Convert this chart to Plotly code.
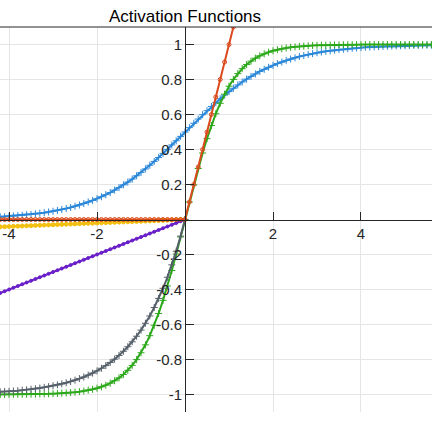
import plotly.graph_objects as go

# x sample positions (step 0.1)
x_vals = [-4.3, -4.2, -4.1, -4.0, -3.9, -3.8, -3.7, -3.6, -3.5, -3.4,
          -3.3, -3.2, -3.1, -3.0, -2.9, -2.8, -2.7, -2.6, -2.5, -2.4,
          -2.3, -2.2, -2.1, -2.0, -1.9, -1.8, -1.7, -1.6, -1.5, -1.4,
          -1.3, -1.2, -1.1, -1.0, -0.9, -0.8, -0.7, -0.6, -0.5, -0.4,
          -0.3, -0.2, -0.1, 0.0,
          0.1, 0.2, 0.3, 0.4, 0.5, 0.6, 0.7, 0.8, 0.9, 1.0,
          1.1, 1.2, 1.3, 1.4, 1.5, 1.6, 1.7, 1.8, 1.9, 2.0,
          2.1, 2.2, 2.3, 2.4, 2.5, 2.6, 2.7, 2.8, 2.9, 3.0,
          3.1, 3.2, 3.3, 3.4, 3.5, 3.6, 3.7, 3.8, 3.9, 4.0,
          4.1, 4.2, 4.3, 4.4, 4.5, 4.6, 4.7, 4.8, 4.9, 5.0,
          5.1, 5.2, 5.3, 5.4, 5.5, 5.6, 5.7]

sigmoid_vals = [0.013, 0.015, 0.016, 0.018, 0.020, 0.022, 0.024, 0.027, 0.029, 0.032,
                0.036, 0.039, 0.043, 0.047, 0.052, 0.057, 0.063, 0.069, 0.076, 0.083,
                0.091, 0.100, 0.109, 0.119, 0.130, 0.142, 0.154, 0.168, 0.182, 0.198,
                0.214, 0.231, 0.250, 0.269, 0.289, 0.310, 0.332, 0.354, 0.378, 0.401,
                0.426, 0.450, 0.475, 0.500,
                0.525, 0.550, 0.574, 0.599, 0.622, 0.646, 0.668, 0.690, 0.711, 0.731,
                0.750, 0.769, 0.786, 0.802, 0.818, 0.832, 0.846, 0.858, 0.870, 0.881,
                0.891, 0.900, 0.909, 0.917, 0.924, 0.931, 0.937, 0.943, 0.948, 0.953,
                0.957, 0.961, 0.964, 0.968, 0.971, 0.973, 0.976, 0.978, 0.980, 0.982,
                0.984, 0.985, 0.987, 0.988, 0.989, 0.990, 0.991, 0.992, 0.993, 0.993,
                0.994, 0.995, 0.995, 0.996, 0.996, 0.996, 0.997]

tanh_vals = [-0.9996, -0.9996, -0.9995, -0.9993, -0.9992, -0.9990, -0.9988, -0.9985, -0.9982, -0.9978,
             -0.9973, -0.9967, -0.9960, -0.9951, -0.9940, -0.9926, -0.9910, -0.9890, -0.9866, -0.9837,
             -0.9801, -0.9757, -0.9705, -0.9640, -0.9562, -0.9468, -0.9354, -0.9217, -0.9051, -0.8854,
             -0.8617, -0.8337, -0.8005, -0.7616, -0.7163, -0.6640, -0.6044, -0.5370, -0.4621, -0.3799,
             -0.2913, -0.1974, -0.0997, 0.0,
             0.0997, 0.1974, 0.2913, 0.3799, 0.4621, 0.5370, 0.6044, 0.6640, 0.7163, 0.7616,
             0.8005, 0.8337, 0.8617, 0.8854, 0.9051, 0.9217, 0.9354, 0.9468, 0.9562, 0.9640,
             0.9705, 0.9757, 0.9801, 0.9837, 0.9866, 0.9890, 0.9910, 0.9926, 0.9940, 0.9951,
             0.9960, 0.9967, 0.9973, 0.9978, 0.9982, 0.9985, 0.9988, 0.9990, 0.9992, 0.9993,
             0.9995, 0.9996, 0.9996, 0.9997, 0.9998, 0.9998, 0.9998, 0.9999, 0.9999, 0.9999,
             0.9999, 0.9999, 1.0, 1.0, 1.0, 1.0, 1.0]

relu_vals = [0.0] * 44 + [0.1, 0.2, 0.3, 0.4, 0.5, 0.6, 0.7, 0.8, 0.9, 1.0, 1.1, 1.2]

leaky_vals = [-0.043, -0.042, -0.041, -0.040, -0.039, -0.038, -0.037, -0.036, -0.035, -0.034,
              -0.033, -0.032, -0.031, -0.030, -0.029, -0.028, -0.027, -0.026, -0.025, -0.024,
              -0.023, -0.022, -0.021, -0.020, -0.019, -0.018, -0.017, -0.016, -0.015, -0.014,
              -0.013, -0.012, -0.011, -0.010, -0.009, -0.008, -0.007, -0.006, -0.005, -0.004,
              -0.003, -0.002, -0.001, 0.0]

prelu_vals = [-0.43, -0.42, -0.41, -0.40, -0.39, -0.38, -0.37, -0.36, -0.35, -0.34,
              -0.33, -0.32, -0.31, -0.30, -0.29, -0.28, -0.27, -0.26, -0.25, -0.24,
              -0.23, -0.22, -0.21, -0.20, -0.19, -0.18, -0.17, -0.16, -0.15, -0.14,
              -0.13, -0.12, -0.11, -0.10, -0.09, -0.08, -0.07, -0.06, -0.05, -0.04,
              -0.03, -0.02, -0.01, 0.0]

elu_vals = [-0.986, -0.985, -0.983, -0.982, -0.980, -0.978, -0.975, -0.973, -0.970, -0.967,
            -0.963, -0.959, -0.955, -0.950, -0.945, -0.939, -0.933, -0.926, -0.918, -0.909,
            -0.900, -0.889, -0.878, -0.865, -0.850, -0.835, -0.817, -0.798, -0.777, -0.753,
            -0.727, -0.699, -0.667, -0.632, -0.593, -0.551, -0.503, -0.451, -0.393, -0.330,
            -0.259, -0.181, -0.095, 0.0]

x_tick_vals = [-4, -2, 2, 4]
x_tick_text = ["-4", "-2", "2", "4"]
y_tick_vals = [-1, -0.8, -0.6, -0.4, -0.2, 0.2, 0.4, 0.6, 0.8, 1]
y_tick_text = ["-1", "-0.8", "-0.6", "-0.4", "-0.2", "0.2", "0.4", "0.6", "0.8", "1"]

X_RANGE = [-4.205, 5.614]
Y_RANGE = [-1.1, 1.1]

fig = go.Figure()

def add(xs, ys, color, symbol, msize, name):
    fig.add_trace(go.Scatter(
        x=xs, y=ys, mode="lines+markers", name=name,
        line=dict(color=color, width=2),
        marker=dict(color=color, symbol=symbol, size=msize,
                    line=dict(color=color, width=1)),
        showlegend=False,
    ))

n_neg = len(leaky_vals)
add(x_vals, sigmoid_vals, "#2b87d8", "cross-thin", 5, "Sigmoid")
add(x_vals, tanh_vals, "#2ca81b", "cross-thin", 5, "Tanh")
add(x_vals[:n_neg], leaky_vals, "#f3c012", "circle", 4, "Leaky ReLU")
add(x_vals[:n_neg], prelu_vals, "#6a1fc9", "circle", 3, "PReLU")
add(x_vals[:n_neg], elu_vals, "#56606a", "cross-thin", 5, "ELU")
add(x_vals[:len(relu_vals)], relu_vals, "#db4a1c", "circle-open", 4, "ReLU")

axis_color = "#262626"
grid_color = "#e5e5e5"
font_family = "Liberation Sans, Arial, sans-serif"

y_pos = (0 - X_RANGE[0]) / (X_RANGE[1] - X_RANGE[0])

fig.update_layout(
    width=432, height=432,
    margin=dict(l=0, r=0, t=27, b=20, pad=0),
    paper_bgcolor="white", plot_bgcolor="white",
    font=dict(family=font_family, color=axis_color, size=15),
    title=dict(text="Activation Functions", x=y_pos, xanchor="center",
               y=1 - 16 / 432, yanchor="middle",
               font=dict(size=17, color="#000000", family=font_family)),
    xaxis=dict(range=X_RANGE, anchor="free", position=0.5,
               tickvals=x_tick_vals, ticktext=x_tick_text,
               showgrid=True, gridcolor=grid_color, gridwidth=1,
               showline=True, linecolor=axis_color, linewidth=1,
               ticks="inside", ticklen=8, tickcolor=axis_color,
               zeroline=False, tickfont=dict(size=15)),
    yaxis=dict(range=Y_RANGE, anchor="free", position=y_pos,
               tickvals=y_tick_vals, ticktext=y_tick_text,
               showgrid=True, gridcolor=grid_color, gridwidth=1,
               showline=True, linecolor=axis_color, linewidth=1,
               ticks="inside", ticklen=8, tickcolor=axis_color,
               zeroline=False, tickfont=dict(size=15)),
    shapes=[dict(type="line", xref="paper", yref="paper", x0=0, x1=1, y0=1, y1=1,
                 line=dict(color=axis_color, width=1))],
)

fig.write_html("out.html",
               config={"displayModeBar": False},
               post_script="document.body.style.margin='0';document.body.style.overflow='hidden';")
